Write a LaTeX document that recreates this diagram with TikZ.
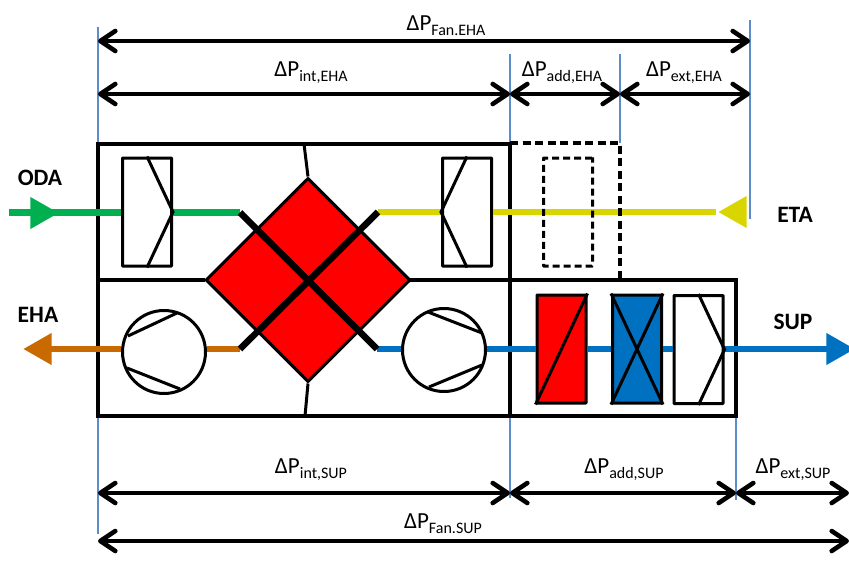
\documentclass[tikz,border=0pt]{standalone}
\usepackage{fontspec}
\setmainfont{Carlito}
\usetikzlibrary{arrows.meta}
\usetikzlibrary{shapes.geometric}
\definecolor{odagreen}{HTML}{00B050}
\definecolor{etayellow}{HTML}{D9D500}
\definecolor{supblue}{HTML}{0070C0}
\definecolor{ehaorange}{HTML}{C96A00}
\definecolor{guideblue}{HTML}{5B8DC8}
\newcommand{\dP}[1]{ΔP\raisebox{-5pt}{\fontsize{16}{16}\selectfont #1}}
\tikzset{
  frame/.style={draw, line width=3.2pt},
  guide/.style={draw=guideblue, line width=1.2pt},
  dim/.style={draw, line width=4.6pt, {Straight Barb[length=15pt,width=20pt,round]}-{Straight Barb[length=15pt,width=20pt,round]}},
  flow/.style={line width=6.5pt},
  part/.style={rectangle, draw, line width=3pt, minimum width=49pt, minimum height=108pt, inner sep=0pt, rounded corners=0.5pt},
  fan/.style={circle, draw, fill=white, line width=3pt, minimum size=83pt, inner sep=0pt},
  stroke/.style={line width=3pt},
  bar/.style={line width=6.5pt},
  dimlabel/.style={anchor=base, font=\fontsize{23}{23}\selectfont, inner sep=0pt},
  airlabel/.style={anchor=base, font=\fontsize{23.5}{23.5}\selectfont\bfseries, inner sep=0pt},
  airtip/.style={isosceles triangle, isosceles triangle stretches, fill=#1, minimum width=32pt, minimum height=28pt, inner sep=0pt}
  }

\begin{document}
\begin{tikzpicture}[x=1pt,y=-1pt]
	\clip (0,0) rectangle (849,565);

	% Coordinates
	\coordinate (topA) at (98,27);
	\coordinate (topB) at (510,54);
	\coordinate (topC) at (620,54);
	\coordinate (topD) at (750,20);
	\coordinate (botA) at (98,534);
	\coordinate (botB) at (510,498);
	\coordinate (botC) at (736,500);
	\coordinate (frameNW) at (98,144);
	\coordinate (frameSW) at (98,416);
	\coordinate (frameNE) at (510,144);
	\coordinate (frameSE) at (510,416);
	\coordinate (addSE) at (736,416);
	\coordinate (etaEnd) at (750,219);

	% Guides
	\draw [guide] (topA) -- (botA);
	\draw [guide] (topB) -- (botB);
	\draw [guide] (topC) -- (620,143);
	\draw [guide] (topD) -- (etaEnd);
	\draw [guide] (addSE) -- (botC);

	% Frame
	\draw [frame] (frameNW) rectangle (frameSE);
	\draw [frame] (510,280) rectangle (addSE);
	\draw [frame] (98,280) -- (205,280);
	\draw [frame] (410,280) -- (510,280);

	% Nodes
	\node[diamond, draw, fill=red, line width=3pt, minimum width=205pt, minimum height=204pt, inner sep=0pt] (exchanger) at (308,280) {};
	\node[part, fill=white] (filterODA) at (147,212) {};
	\node[part, fill=white] (filterETA) at (467,212) {};
	\node[fan] (fanEHA) at (164,352) {};
	\node[fan] (fanSUP) at (444,350) {};
	\node[part, fill=red] (heater) at (561.5,349) {};
	\node[part, fill=supblue] (cooler) at (637,349) {};
	\node[part, fill=white] (filterSUP) at (698.5,349.5) {};
	\coordinate (odaStart) at (9,212.5);
	\coordinate (odaEnd) at (240,212.5);
	\coordinate (etaStart) at (716,212);
	\coordinate (etaBar) at (378,212);
	\coordinate (ehaBar) at (240,349);
	\coordinate (ehaEnd) at (50,349);
	\coordinate (supBar) at (377,349);
	\coordinate (supEnd) at (830,349);
	\node[airtip=odagreen, anchor=apex] (tipODA) at (59,213) {};
	\node[airtip=etayellow, anchor=apex, shape border rotate=180] (tipETA) at (718,212) {};
	\node[airtip=ehaorange, anchor=apex, shape border rotate=180] (tipEHA) at (23,349) {};
	\node[airtip=supblue, anchor=apex] (tipSUP) at (855,349) {};

	% Flows
	\draw [flow, odagreen] (odaStart) -- (filterODA.west |- odaStart);
	\draw [flow, odagreen] (filterODA.east |- odaEnd) -- (odaEnd);
	\draw [flow, etayellow] (etaBar) -- (filterETA.west);
	\draw [flow, etayellow] (filterETA.east) -- (etaStart);
	\draw [flow, ehaorange] (ehaBar) -- (fanEHA.east |- ehaBar);
	\draw [flow, ehaorange] (fanEHA.west |- ehaEnd) -- (ehaEnd);
	\draw [flow, supblue] (supBar) -- (fanSUP.west |- supBar);
	\draw [flow, supblue] (fanSUP.east |- supBar) -- (heater.west);
	\draw [flow, supblue] (heater.east) -- (cooler.west);
	\draw [flow, supblue] (cooler.east) -- (filterSUP.west |- cooler.east);
	\draw [flow, supblue] (filterSUP.east |- supEnd) -- (supEnd);

	% Dashed boxes
	\draw [frame, dash pattern=on 8pt off 4.5pt] (frameNE) ++(0,-1) -- (620,143) -- (620,280);
	\node[part, dash pattern=on 7pt off 4pt] (addEHA) at (568,212) {};

	% Inside the parts
	\draw [stroke] (filterODA.north) -- (filterODA.east) -- (filterODA.south);
	\draw [stroke] (filterETA.north) -- (filterETA.west) -- (filterETA.south);
	\draw [stroke] (filterSUP.north) -- (filterSUP.east) -- (filterSUP.south);
	\draw [stroke] (heater.south west) -- (heater.north east);
	\draw [stroke] (cooler.south west) -- (cooler.north east);
	\draw [stroke] (cooler.north west) -- (cooler.south east);
	\draw [stroke] (128,336) -- (177,313);
	\draw [stroke] (127,368) -- (180,389);
	\draw [stroke] (428,312) -- (482,333);
	\draw [stroke] (482,365) -- (429,387);

	% Exchanger
	\draw [bar] (odaEnd) -- (supBar);
	\draw [bar] (ehaBar) -- (etaBar);
	\draw [stroke] (304,144) -- (exchanger.north);
	\draw [stroke] (305,416) -- (exchanger.south);

	% Arrows
	\draw [dim] (98,41) -- (750,41);
	\draw [dim] (98,94) -- (510,94);
	\draw [dim] (510,94) -- (620,94);
	\draw [dim] (620,94) -- (750,94);
	\draw [dim] (98,493) -- (510,493);
	\draw [dim] (510,493) -- (736,493);
	\draw [dim] (736,493) -- (849,493);
	\draw [dim] (98,541) -- (849,541);

	% Labels
	\node[dimlabel] (fanEHAlabel) at (446,30) {\dP{Fan.EHA}};
	\node[dimlabel] (intEHAlabel) at (311,76) {\dP{int,EHA}};
	\node[dimlabel] (addEHAlabel) at (562,76) {\dP{add,EHA}};
	\node[dimlabel] (extEHAlabel) at (684,76) {\dP{ext,EHA}};
	\node[dimlabel] (intSUPlabel) at (311,473) {\dP{int,SUP}};
	\node[dimlabel] (addSUPlabel) at (624,473) {\dP{add,SUP}};
	\node[dimlabel] (extSUPlabel) at (793,473) {\dP{ext,SUP}};
	\node[dimlabel] (fanSUPlabel) at (443,528) {\dP{Fan.SUP}};
	\node[airlabel] (odaLabel) at (40,185) {ODA};
	\node[airlabel] (ehaLabel) at (38,322) {EHA};
	\node[airlabel] (etaLabel) at (795,222) {ETA};
	\node[airlabel] (supLabel) at (793,329) {SUP};
\end{tikzpicture}
\end{document}
